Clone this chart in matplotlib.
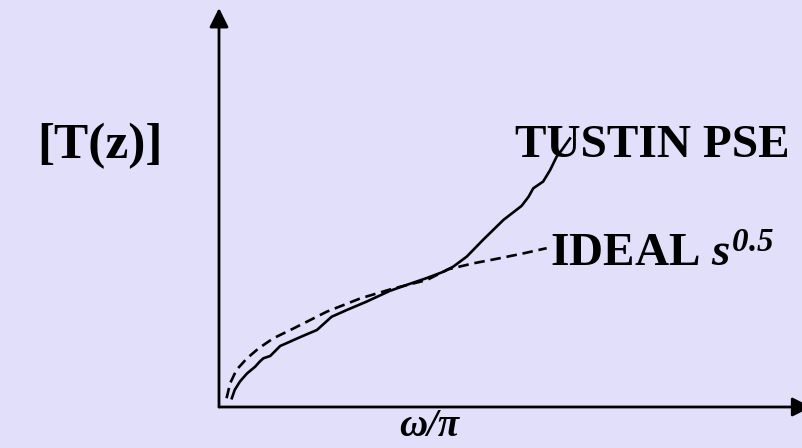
import matplotlib
matplotlib.use("Agg")
import matplotlib.pyplot as plt

# Normalised frequency (omega/pi) and magnitude samples for the two responses
tustin_x = [0.022, 0.027, 0.036, 0.048, 0.062, 0.070, 0.076, 0.088, 0.105,
            0.116, 0.139, 0.168, 0.193, 0.219, 0.253, 0.293, 0.322, 0.356,
            0.385, 0.402, 0.425, 0.453, 0.488, 0.519, 0.531, 0.539, 0.556,
            0.568, 0.579, 0.588, 0.602]
tustin_y = [0.022, 0.043, 0.064, 0.084, 0.101, 0.114, 0.122, 0.128, 0.153,
            0.160, 0.175, 0.193, 0.226, 0.243, 0.264, 0.291, 0.306, 0.323,
            0.339, 0.352, 0.377, 0.419, 0.469, 0.504, 0.527, 0.548, 0.565,
            0.594, 0.627, 0.644, 0.673]

ideal_x = [0.013, 0.019, 0.030, 0.048, 0.068, 0.093, 0.128, 0.185, 0.242,
           0.299, 0.356, 0.393, 0.436, 0.482, 0.522, 0.562]
ideal_y = [0.022, 0.059, 0.093, 0.122, 0.147, 0.172, 0.197, 0.239, 0.272,
           0.297, 0.318, 0.345, 0.360, 0.373, 0.385, 0.398]

W, H = 802, 448
BG = "#E2DFFB"

plt.rcParams["mathtext.fontset"] = "custom"
plt.rcParams["mathtext.rm"] = "Liberation Serif:bold:italic"
plt.rcParams["mathtext.it"] = "Liberation Serif:bold:italic"
plt.rcParams["mathtext.bf"] = "Liberation Serif:bold"

fig = plt.figure(figsize=(W / 100, H / 100), dpi=100, facecolor=BG)

# axes origin at pixel (219, 407), top of y arrow at pixel row 8
x0, y0, xr, yt = 219, 407, 802, 8
ax = fig.add_axes([x0 / W, 1 - y0 / H, (xr - x0) / W, (y0 - yt) / H])
ax.set_xlim(0, 1)
ax.set_ylim(0, 1)
ax.set_facecolor(BG)
ax.axis("off")

arrow = dict(arrowstyle="-|>,head_length=1.0,head_width=0.5",
             mutation_scale=11.5, lw=2.0, color="black",
             shrinkA=0, shrinkB=0)
ax.annotate("", xy=(0, 1), xytext=(0, 0), arrowprops=arrow,
            annotation_clip=False)
ax.annotate("", xy=(1.016, 0), xytext=(0, 0), arrowprops=arrow,
            annotation_clip=False)

ax.plot(tustin_x, tustin_y, color="black", lw=1.9, clip_on=False,
        solid_joinstyle="round")
ax.plot(ideal_x, ideal_y, color="black", lw=1.9, dashes=(4.0, 2.2),
        clip_on=False)

serif = "Liberation Serif"


def put(px, py, s, size, style="normal"):
    fig.text(px / W, 1 - py / H, s, family=serif, weight="bold",
             style=style, fontsize=size, ha="left", va="baseline")


put(37, 158, "[T(z)]", 37)
put(515, 157, "TUSTIN PSE", 34)
put(550, 267, r"IDEAL $s^{0.5}$", 34)
put(399, 436, "ω/π", 28, style="italic")

fig.savefig("out.png", dpi=100, facecolor=BG)
